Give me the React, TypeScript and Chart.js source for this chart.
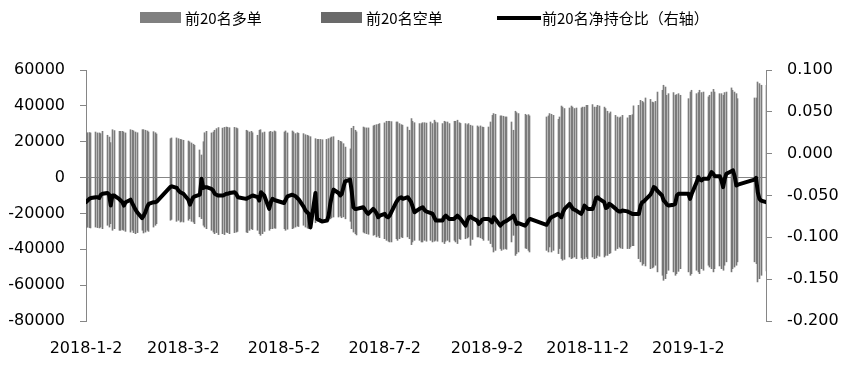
import React, { useEffect, useRef } from 'react';
import { Chart, registerables } from 'chart.js';

Chart.register(...registerables);

// ---------- categories (trading days) ----------
const FIRST_DAY = '2018-01-02';
const LAST_DAY = '2019-02-18';
const HOLIDAYS = [
  '2018-02-15', '2018-02-16', '2018-02-19', '2018-02-20', '2018-02-21',
  '2018-04-05', '2018-04-06', '2018-04-30', '2018-05-01', '2018-06-18',
  '2018-09-24', '2018-10-01', '2018-10-02', '2018-10-03', '2018-10-04',
  '2018-10-05', '2018-12-31', '2019-01-01', '2019-02-04', '2019-02-05',
  '2019-02-06', '2019-02-07', '2019-02-08',
];

const X_TICK_LABELS = ['2018-1-2', '2018-3-2', '2018-5-2', '2018-7-2', '2018-9-2', '2018-11-2', '2019-1-2'];
const LEFT_TICKS = { min: -80000, max: 60000, step: 20000 };
const RIGHT_TICKS = { min: -0.2, max: 0.1, step: 0.05 };

const SERIES_NAMES = ['前20名多单', '前20名空单', '前20名净持仓比（右轴）'];

// ---------- series (one value per trading day, week by week) ----------
const LONG_POSITIONS = [
  24800, 25000, 25100, 24900,
  25400, 24900, 24900, 24500, 25800,
  23600, 22600, 19500, 26700, 26200,
  25800, 25800, 25800, 25400, 24900,
  26700, 26400, 26000, 25400, 25000,
  26700, 26700, 26400, 26000, 25400,
  25600, 25000, 24300,
  21700, 22100,
  22100, 21700, 21300, 21100, 20800,
  20400, 19900, 19300, 18600, 18000,
  15400, 12600, 20000, 25000, 25800,
  24900, 25400, 26400, 27300, 27900,
  27600, 28000, 28200, 28000, 27800,
  28000, 27700, 27300,
  26400, 26000, 25400, 25800, 25000,
  23600, 26400, 26700, 25000, 25400,
  25400, 25800, 25400, 26000, 25600,
  25400, 26000, 24900,
  26000, 25400, 24500, 25000, 24700,
  24500, 23900, 23600, 23200, 22800,
  21700, 21300, 21300, 21300, 21100,
  21300, 21700, 22100, 22600, 22800,
  20800, 20200, 19900, 18900, 17000,
  16000, 27500, 28600, 26400, 25500,
  28200, 27800, 27700, 27700,
  28800, 29200, 29500, 29700, 30100,
  30500, 31400, 31400, 31400, 31200,
  31000, 31000, 30100, 29500, 29200,
  28200, 26400, 32900, 31400, 30600,
  30100, 30100, 30600, 30600, 30400,
  31000, 30100, 32000, 31000, 30600,
  30100, 31400, 31000, 31000, 30100,
  31400, 31400, 32000, 30600, 30200,
  30100, 29500, 30100, 29200, 28800,
  28800, 28200, 28800, 28200, 28000,
  28200, 31000, 34700, 35700, 35300,
  34400, 34400, 34200, 33800, 33800,
  31000, 26400, 37000, 36200, 35700,
  35300, 34700, 35100, 34400,
  33800, 34400, 35700, 35300, 34700,
  32500, 33800, 39900, 39300, 38500,
  38800, 39900, 39300, 38500, 38800,
  38800, 39300, 39300, 40300, 40300,
  40700, 39300, 39300, 40300, 39900,
  39300, 38500, 37000, 35700, 36600,
  34700, 33800, 33300, 33800, 34700,
  33300, 34700, 34700, 35100, 40000,
  40300, 43100, 42500, 41800, 44400,
  43600, 42100, 41800, 42500, 47700,
  48700, 51500, 50500, 45900, 46800,
  47400, 45900, 46300, 46800, 45900,
  44000, 47700, 48700,
  46800, 47400, 48700, 47400, 47700,
  45000, 45900, 47700, 49200, 47700,
  46800, 46800, 45900, 47400, 47700,
  50000, 48700, 47700, 46800, 44000,
  44400, 44400, 53300, 52400, 51500,
  51500,
];

const SHORT_POSITIONS = [
  -27900, -27600, -27900, -28100,
  -27600, -27900, -28100, -27600, -28500,
  -26600, -27600, -25700, -29400, -28500,
  -29400, -29400, -29000, -29400, -30000,
  -30400, -29400, -30700, -31300, -30700,
  -29400, -30900, -30400, -29400, -30000,
  -27600, -26600, -25700,
  -23800, -23300,
  -24400, -23800, -24800, -24400, -24800,
  -23800, -22900, -24400, -24800, -25700,
  -21900, -22900, -26600, -27600, -28500,
  -29400, -30400, -31300, -30700, -31800,
  -31300, -31800, -30400, -30700, -31300,
  -30700, -30400, -30000,
  -30400, -30700, -29400, -28500, -29000,
  -29400, -31300, -32200, -31300, -30000,
  -29400, -28500, -28500, -28100, -28300,
  -28500, -29400, -28800,
  -28500, -28100, -27600, -27000, -27300,
  -26600, -27600, -28100, -28500, -28800,
  -25200, -24400, -24400, -24800, -24400,
  -24400, -23800, -23000, -22400, -22000,
  -22000, -21500, -22400, -21900, -23000,
  -24400, -28500, -30400, -31300, -32000,
  -30400, -30900, -31300, -31600,
  -32200, -31800, -33100, -32600, -33500,
  -34100, -35000, -35500, -35900, -35900,
  -34100, -35000, -34100, -33100, -33500,
  -33100, -34100, -37400, -35900, -35000,
  -35000, -35900, -35900, -35000, -35500,
  -35000, -35900, -35500, -35000, -35500,
  -35900, -36800, -35500, -35000, -35900,
  -35000, -35900, -36800, -34100, -34500,
  -34100, -33700, -33100, -37800, -34500,
  -33100, -33100, -33600, -34100, -35000,
  -35000, -36800, -38700, -41500, -40600,
  -39600, -40600, -40000, -39600, -40000,
  -35900, -32200, -43400, -42400, -41500,
  -39300, -39600, -40600, -41500,
  -40600, -41500, -38700, -41500, -40600,
  -42400, -39600, -45200, -46100, -45600,
  -44300, -45200, -44800, -44300, -45200,
  -44800, -45600, -45200, -44300, -45200,
  -44300, -45200, -44800, -43400, -43900,
  -44300, -43400, -43400, -42400, -42000,
  -40600, -39600, -38700, -39300, -39600,
  -39600, -39600, -38700, -38000, -38000,
  -45200, -47000, -48900, -48000, -49300,
  -50800, -50400, -49900, -48900, -52600,
  -54500, -57300, -56400, -53600, -51700,
  -52600, -54500, -53600, -52300, -50800,
  -52600, -54500, -53600,
  -51700, -52600, -53600, -50800, -51700,
  -48900, -49900, -50800, -52600, -50800,
  -49300, -50800, -51700, -48900, -47000,
  -52600, -50800, -49900, -48900, -47000,
  -47000, -48000, -58200, -56400, -54500,
  -52000,
];

const NET_RATIO = [
  -0.058, -0.056, -0.054, -0.053,
  -0.052, -0.052, -0.053, -0.049, -0.048,
  -0.047, -0.049, -0.062, -0.050, -0.050,
  -0.054, -0.056, -0.058, -0.062, -0.058,
  -0.055, -0.059, -0.063, -0.067, -0.070,
  -0.077, -0.074, -0.070, -0.064, -0.060,
  -0.058, -0.058, -0.057,
  -0.040, -0.039,
  -0.041, -0.044, -0.046, -0.047, -0.048,
  -0.055, -0.061, -0.056, -0.052, -0.051,
  -0.049, -0.030, -0.041, -0.040, -0.040,
  -0.042, -0.044, -0.048, -0.049, -0.050,
  -0.050, -0.049, -0.048, -0.048, -0.047,
  -0.046, -0.048, -0.052,
  -0.054, -0.053, -0.052, -0.051, -0.050,
  -0.052, -0.056, -0.046, -0.048, -0.050,
  -0.066, -0.058, -0.054, -0.055, -0.056,
  -0.059, -0.055, -0.051,
  -0.049, -0.050, -0.051, -0.053, -0.055,
  -0.064, -0.068, -0.070, -0.072, -0.088,
  -0.047, -0.078, -0.079, -0.080, -0.081,
  -0.080, -0.074, -0.060, -0.050, -0.043,
  -0.047, -0.050, -0.048, -0.040, -0.033,
  -0.031, -0.045, -0.064, -0.066, -0.066,
  -0.064, -0.067, -0.070, -0.072,
  -0.066, -0.068, -0.071, -0.076, -0.074,
  -0.072, -0.075, -0.076, -0.074, -0.070,
  -0.058, -0.055, -0.053, -0.052, -0.054,
  -0.052, -0.055, -0.058, -0.064, -0.070,
  -0.066, -0.065, -0.064, -0.067, -0.069,
  -0.071, -0.072, -0.076, -0.080, -0.080,
  -0.080, -0.076, -0.074, -0.076, -0.078,
  -0.078, -0.076, -0.074, -0.076, -0.078,
  -0.086, -0.080, -0.076, -0.075, -0.077,
  -0.080, -0.084, -0.082, -0.079, -0.078,
  -0.078, -0.080, -0.082, -0.076, -0.078,
  -0.086, -0.084, -0.082, -0.081, -0.080,
  -0.076, -0.074, -0.079, -0.084, -0.083,
  -0.086, -0.084, -0.080, -0.078,
  -0.085, -0.082, -0.078, -0.076, -0.075,
  -0.072, -0.074, -0.076, -0.070, -0.066,
  -0.060, -0.063, -0.066, -0.067, -0.068,
  -0.072, -0.068, -0.062, -0.064, -0.066,
  -0.066, -0.060, -0.053, -0.052, -0.054,
  -0.058, -0.065, -0.064, -0.060, -0.061,
  -0.066, -0.068, -0.069, -0.069, -0.068,
  -0.069, -0.070, -0.071, -0.072, -0.072,
  -0.072, -0.062, -0.058, -0.057, -0.055,
  -0.049, -0.045, -0.040, -0.041, -0.044,
  -0.050, -0.056, -0.058, -0.061, -0.062,
  -0.061, -0.060, -0.050, -0.048, -0.048,
  -0.048, -0.054, -0.048,
  -0.034, -0.028, -0.031, -0.032, -0.030,
  -0.030, -0.026, -0.022, -0.024, -0.027,
  -0.027, -0.032, -0.040, -0.030, -0.024,
  -0.021, -0.020, -0.027, -0.038, -0.037,
  -0.031, -0.029, -0.046, -0.054, -0.056,
  -0.058,
];

// ---------- helpers ----------
const DAY_MS = 86400000;
function parseDate(s: string): number {
  const [y, m, d] = s.split('-').map(Number);
  return Date.UTC(y, m - 1, d);
}
function dayIndex(s: string): number {
  return Math.round((parseDate(s) - parseDate(FIRST_DAY)) / DAY_MS);
}
function buildTradingDays(): number[] {
  const holidaySet = new Set(HOLIDAYS.map(dayIndex));
  const last = dayIndex(LAST_DAY);
  const start = parseDate(FIRST_DAY);
  const out: number[] = [];
  for (let i = 0; i <= last; i++) {
    const wd = new Date(start + i * DAY_MS).getUTCDay();
    if (wd === 0 || wd === 6) continue;
    if (holidaySet.has(i)) continue;
    out.push(i);
  }
  return out;
}

const GRAY_AXIS = '#868686';
const LONG_COLOR = '#7c7c7c';
const SHORT_COLOR = '#767676';
const LEGEND_LONG = '#808080';
const LEGEND_SHORT = '#6a6a6a';
const LINE_COLOR = '#000000';

// Snap the 1px bars onto whole device pixels so they stay crisp thin lines.
const crispBarsPlugin = {
  id: 'crispBars',
  beforeDatasetsDraw(chart: any) {
    chart.data.datasets.forEach((d: any, i: number) => {
      if (d.type !== 'bar') return;
      const meta = chart.getDatasetMeta(i);
      meta.data.forEach((el: any) => {
        el.x = Math.floor(el.x) + 0.5;
      });
    });
  },
};

const legendPlugin = {
  id: 'fixedLegend',
  afterDraw(chart: any) {
    const ctx = chart.ctx as CanvasRenderingContext2D;
    const ds = chart.data.datasets;
    const starts = [140, 321, 497];
    const swatch = [LEGEND_LONG, LEGEND_SHORT, LINE_COLOR];
    const y = 18;
    ctx.save();
    ctx.font = "15px 'Noto Sans CJK SC'";
    ctx.textBaseline = 'middle';
    ctx.textAlign = 'left';
    for (let i = 0; i < 3; i++) {
      const x = starts[i];
      const d = ds[i];
      if (d.type === 'line') {
        ctx.strokeStyle = swatch[i];
        ctx.lineWidth = 4;
        ctx.beginPath();
        ctx.moveTo(x, y);
        ctx.lineTo(x + 44, y);
        ctx.stroke();
      } else {
        ctx.fillStyle = swatch[i];
        ctx.fillRect(x, y - 6, 41, 11);
      }
      ctx.fillStyle = '#000';
      ctx.fillText(d.label, x + 45, y);
    }
    ctx.restore();
  },
};

export default function App() {
  const canvasRef = useRef<HTMLCanvasElement | null>(null);

  useEffect(() => {
    const canvas = canvasRef.current;
    if (!canvas) return;
    const days = buildTradingDays();
    const xTicks = X_TICK_LABELS.map((l) => ({ value: dayIndex(l), label: l }));
    const lastDay = dayIndex(LAST_DAY);

    const longData = days.map((d, i) => ({ x: d, y: LONG_POSITIONS[i] }));
    const shortData = days.map((d, i) => ({ x: d, y: SHORT_POSITIONS[i] }));
    const ratioData = days.map((d, i) => ({ x: d, y: NET_RATIO[i] }));

    const chart = new Chart(canvas, {
      type: 'bar',
      data: {
        datasets: [
          {
            type: 'bar',
            label: SERIES_NAMES[0],
            data: longData,
            backgroundColor: LONG_COLOR,
            borderWidth: 0,
            barThickness: 1,
            grouped: false,
            yAxisID: 'y',
            order: 2,
          } as any,
          {
            type: 'bar',
            label: SERIES_NAMES[1],
            data: shortData,
            backgroundColor: SHORT_COLOR,
            borderWidth: 0,
            barThickness: 1,
            grouped: false,
            yAxisID: 'y',
            order: 3,
          } as any,
          {
            type: 'line',
            label: SERIES_NAMES[2],
            data: ratioData,
            borderColor: LINE_COLOR,
            backgroundColor: LINE_COLOR,
            borderWidth: 4,
            pointRadius: 0,
            tension: 0,
            borderJoinStyle: 'round',
            borderCapStyle: 'round',
            yAxisID: 'y1',
            order: 0,
          } as any,
        ],
      },
      options: {
        animation: false,
        responsive: true,
        maintainAspectRatio: false,
        layout: { padding: { top: 70, left: 0, right: 0, bottom: 0 } },
        plugins: {
          legend: { display: false },
          tooltip: { enabled: false },
        },
        scales: {
          x: {
            type: 'linear',
            position: 'bottom',
            min: 0,
            max: lastDay,
            offset: false,
            grid: { display: false },
            border: { display: false },
            afterBuildTicks: (scale: any) => {
              scale.ticks = xTicks.map((t) => ({ value: t.value }));
            },
            afterFit: (scale: any) => {
              scale.height = 44;
            },
            ticks: {
              autoSkip: false,
              maxRotation: 0,
              padding: 10,
              color: '#000',
              font: { family: "'DejaVu Sans'", size: 16 },
              callback: (v: any) => {
                const t = xTicks.find((tt) => tt.value === v);
                return t ? t.label : '';
              },
            },
          },
          y: {
            type: 'linear',
            position: 'left',
            min: LEFT_TICKS.min,
            max: LEFT_TICKS.max,
            afterFit: (scale: any) => {
              scale.width = 86;
            },
            grid: {
              drawOnChartArea: true,
              color: (c: any) => (c.tick && c.tick.value === 0 ? GRAY_AXIS : 'rgba(0,0,0,0)'),
              tickColor: GRAY_AXIS,
              tickLength: 6,
              lineWidth: 1,
            },
            border: { display: true, color: GRAY_AXIS, width: 1 },
            ticks: {
              stepSize: LEFT_TICKS.step,
              padding: 15,
              color: '#000',
              font: { family: "'DejaVu Sans'", size: 16 },
              callback: (v: any) => String(v),
            },
          },
          y1: {
            type: 'linear',
            position: 'right',
            min: RIGHT_TICKS.min,
            max: RIGHT_TICKS.max,
            afterFit: (scale: any) => {
              scale.width = 82;
            },
            grid: {
              drawOnChartArea: false,
              tickColor: GRAY_AXIS,
              tickLength: 6,
            },
            border: { display: true, color: GRAY_AXIS, width: 1 },
            ticks: {
              stepSize: RIGHT_TICKS.step,
              padding: 15,
              color: '#000',
              font: { family: "'DejaVu Sans'", size: 16 },
              callback: (v: any) => Number(v).toFixed(3),
            },
          },
        },
      } as any,
      plugins: [crispBarsPlugin, legendPlugin],
    });

    return () => chart.destroy();
  }, []);

  return (
    <div
      style={{
        position: 'fixed',
        left: 0,
        top: 0,
        width: 848,
        height: 365,
        background: '#ffffff',
      }}
    >
      <canvas ref={canvasRef} />
    </div>
  );
}
